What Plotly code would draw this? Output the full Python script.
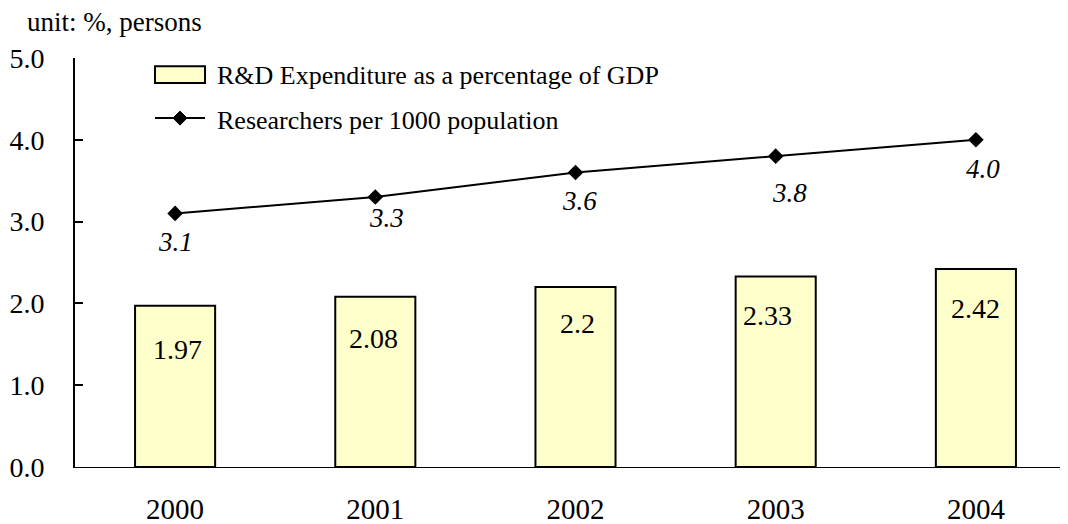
import plotly.graph_objects as go

YEARS = ["2000", "2001", "2002", "2003", "2004"]
RD_SHARE_GDP = [1.97, 2.08, 2.2, 2.33, 2.42]
RESEARCHERS_PER_1000 = [3.1, 3.3, 3.6, 3.8, 4.0]
RD_LABELS = ["1.97", "2.08", "2.2", "2.33", "2.42"]
RES_LABELS = ["3.1", "3.3", "3.6", "3.8", "4.0"]

SERIF = "Liberation Serif, Times New Roman, serif"
BAR_FILL = "#FFFFCC"

# label offsets in pixels (dx, dy)
BAR_LABEL_SHIFT = [(2, -44), (-2, -42), (2, -36), (-8, -39), (0, -39)]
LINE_LABEL_SHIFT = [(0, -29), (11, -21), (4, -28), (14, -37), (7, -29)]


def _font(size):
    return dict(family=SERIF, size=size, color="black")


fig = go.Figure()

fig.add_trace(
    go.Bar(
        x=YEARS,
        y=RD_SHARE_GDP,
        width=0.4,
        marker=dict(color=BAR_FILL, line=dict(color="black", width=2)),
        name="R&D Expenditure as a percentage of GDP",
    )
)
fig.add_trace(
    go.Scatter(
        x=YEARS,
        y=RESEARCHERS_PER_1000,
        mode="lines+markers",
        line=dict(color="black", width=2),
        marker=dict(symbol="diamond", size=12, color="black"),
        name="Researchers per 1000 population",
    )
)

annotations = []
# category axis: annotations are placed by category index
for i, (v, txt) in enumerate(zip(RD_SHARE_GDP, RD_LABELS)):
    dx, dy = BAR_LABEL_SHIFT[i]
    annotations.append(dict(x=i, y=v, xref="x", yref="y", text=txt, showarrow=False,
                            xshift=dx, yshift=dy, font=_font(28)))
for i, (v, txt) in enumerate(zip(RESEARCHERS_PER_1000, RES_LABELS)):
    dx, dy = LINE_LABEL_SHIFT[i]
    annotations.append(dict(x=i, y=v, xref="x", yref="y", text=f"<i>{txt}</i>", showarrow=False,
                            xshift=dx, yshift=dy, font=_font(27)))

# hand-drawn legend (wide swatch like the original)
annotations += [
    dict(x=0.1399, y=0.958, xref="paper", yref="paper", xanchor="left", yanchor="middle",
         text="R&D Expenditure as a percentage of GDP", showarrow=False, font=_font(26)),
    dict(x=0.1399, y=0.848, xref="paper", yref="paper", xanchor="left", yanchor="middle",
         text="Researchers per 1000 population", showarrow=False, font=_font(26)),
    dict(x=-0.05, y=1.088, xref="paper", yref="paper", xanchor="left", yanchor="middle",
         text="unit: %, persons", showarrow=False, font=_font(27)),
]

shapes = [
    dict(type="rect", xref="paper", yref="paper", x0=0.0799, x1=0.1299, y0=0.939, y1=0.980,
         fillcolor=BAR_FILL, line=dict(color="black", width=2)),
    dict(type="line", xref="paper", yref="paper", x0=0.0799, x1=0.1299, y0=0.853, y1=0.853,
         line=dict(color="black", width=2)),
    dict(type="path", xref="paper", yref="paper", xsizemode="pixel", ysizemode="pixel",
         xanchor=0.1049, yanchor=0.853, path="M -7 0 L 0 7 L 7 0 L 0 -7 Z",
         fillcolor="black", line=dict(color="black", width=1)),
]

fig.update_layout(
    width=1068,
    height=524,
    margin=dict(l=67, r=0, t=50, b=65),
    plot_bgcolor="white",
    paper_bgcolor="white",
    font=_font(28),
    showlegend=False,
    annotations=annotations,
    shapes=shapes,
    xaxis=dict(
        type="category",
        range=[-0.5, 4.5],
        showline=True,
        linecolor="black",
        linewidth=1,
        ticks="",
        showgrid=False,
        ticklabelstandoff=16,
        tickfont=_font(29),
    ),
    yaxis=dict(
        range=[0, 5],
        dtick=1,
        tickformat=".1f",
        showline=True,
        linecolor="black",
        linewidth=2,
        ticks="inside",
        ticklen=8,
        tickwidth=2,
        tickcolor="black",
        showgrid=False,
        zeroline=False,
        ticklabelstandoff=23,
        tickfont=_font(28),
    ),
)

fig.write_html("out.html")
